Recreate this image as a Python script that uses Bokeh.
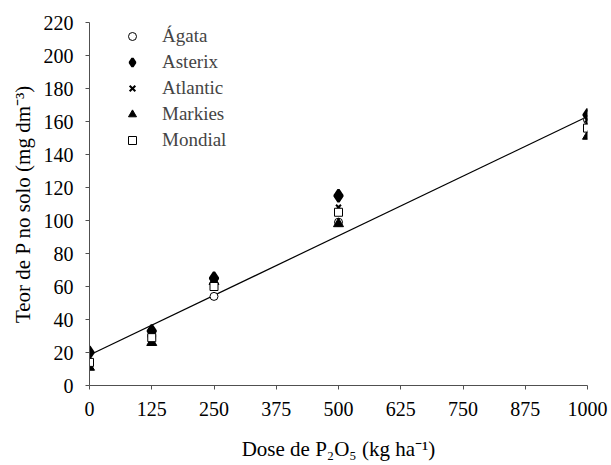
from bokeh.plotting import figure
from bokeh.models import Legend, LegendItem, FixedTicker
from bokeh.embed import file_html
from bokeh.resources import INLINE

doses = [0, 125, 250, 500, 1000]
agata = [13, 30, 54, 99, 161]
asterix = [20, 33, 65, 115, 164]
atlantic = [12, 28, 61, 108, 159]
markies = [11, 26, 63, 98, 151]
mondial = [14, 29, 60, 105, 156]
fit_x = [0, 1000]
fit_y = [18.5, 163]
x_ticks = [0, 125, 250, 375, 500, 625, 750, 875, 1000]
y_ticks = [0, 20, 40, 60, 80, 100, 120, 140, 160, 180, 200, 220]

FONT = "Times New Roman, Liberation Serif, serif"
AX = "#505050"

p = figure(width=611, height=465, output_backend="svg", toolbar_location=None,
           x_range=(0, 1000), y_range=(0, 220),
           min_border_left=89, min_border_right=24, min_border_top=22, min_border_bottom=80)
p.outline_line_color = None
p.xgrid.visible = False
p.ygrid.visible = False
p.background_fill_color = "white"

p.line(fit_x, fit_y, line_color="black", line_width=1.2)

r_ag = p.scatter(doses, agata, marker="circle", size=8, fill_color="white", line_color="black", line_width=1)
r_as = p.scatter(doses, asterix, marker="diamond", size=12, fill_color="black", line_color="black", line_width=2.5)
r_at = p.scatter(doses, atlantic, marker="x", size=7, line_color="black", line_width=2)
r_ma = p.scatter(doses, markies, marker="triangle", size=10, fill_color="black", line_color="black")
r_mo = p.scatter(doses, mondial, marker="square", size=8, fill_color="white", line_color="black", line_width=1)

for ax in (p.xaxis, p.yaxis):
    ax.axis_line_color = AX
    ax.major_tick_line_color = AX
    ax.major_tick_out = 4
    ax.major_tick_in = 0
    ax.minor_tick_line_color = None
    ax.major_label_text_font = FONT
    ax.major_label_text_font_size = "20px"
    ax.major_label_text_color = "black"
    ax.axis_label_text_font = FONT
    ax.axis_label_text_font_size = "21px"
    ax.axis_label_text_font_style = "normal"
    ax.axis_label_text_color = "black"

p.xaxis.ticker = FixedTicker(ticks=x_ticks)
p.yaxis.ticker = FixedTicker(ticks=y_ticks)
p.xaxis.axis_label = "Dose de P\u2082O\u2085 (kg ha\u207b\u00b9)"
p.yaxis.axis_label = "Teor de P no solo (mg dm\u207b\u00b3)"
p.xaxis.major_label_standoff = 12
p.yaxis.major_label_standoff = 12
p.xaxis.axis_label_standoff = 18
p.yaxis.axis_label_standoff = 6

legend = Legend(items=[
    LegendItem(label="\u00c1gata", renderers=[r_ag]),
    LegendItem(label="Asterix", renderers=[r_as]),
    LegendItem(label="Atlantic", renderers=[r_at]),
    LegendItem(label="Markies", renderers=[r_ma]),
    LegendItem(label="Mondial", renderers=[r_mo]),
], location=(33, 234))
legend.border_line_color = None
legend.background_fill_alpha = 0
legend.label_text_font = FONT
legend.label_text_font_size = "19px"
legend.glyph_width = 20
legend.glyph_height = 20
legend.label_height = 20
legend.spacing = 4
legend.label_standoff = 20
legend.margin = 0
legend.padding = 0
p.add_layout(legend)

open("out.html", "w").write(file_html(p, INLINE))
